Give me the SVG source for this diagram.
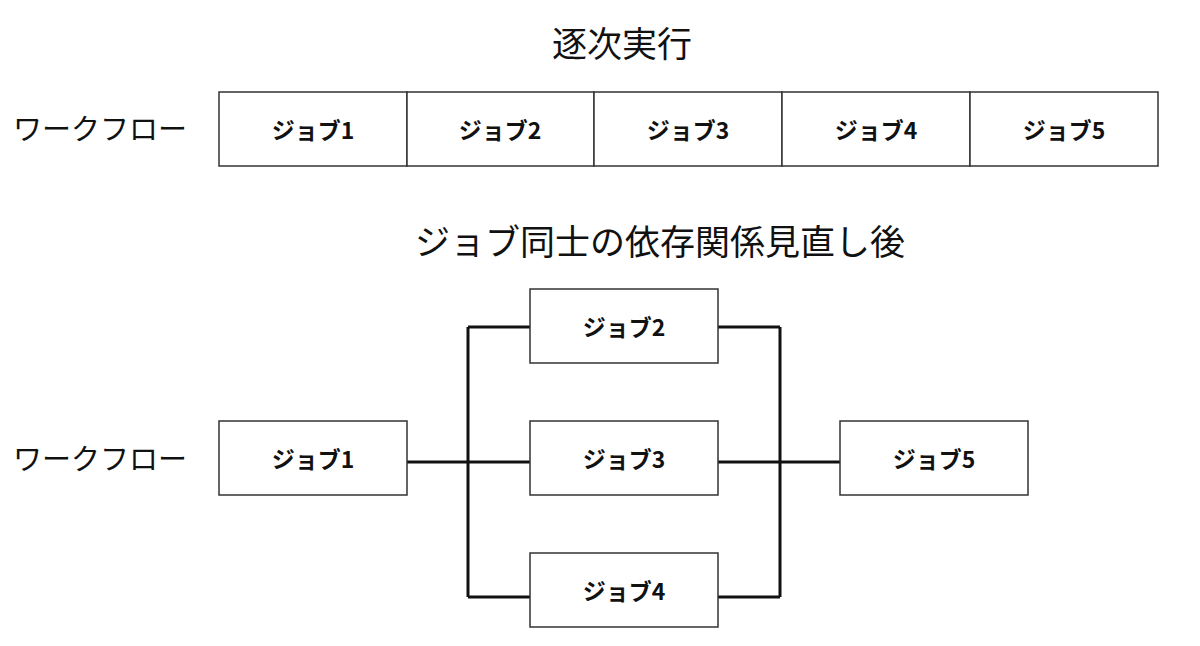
<svg xmlns="http://www.w3.org/2000/svg" width="1200" height="646" viewBox="0 0 1200 646">
<style>
.t{font-family:"Noto Sans CJK JP","Noto Sans",sans-serif;fill:#111}
.title{font-size:35px}
.side{font-size:29px}
.lbl{font-size:23px;font-weight:bold;text-anchor:middle;dominant-baseline:central}
.box{fill:#fff;stroke:#333;stroke-width:1.5}
.conn{fill:none;stroke:#111;stroke-width:3}
</style>
<rect width="1200" height="646" fill="#fff"/>
<text class="t title" x="622" y="57" text-anchor="middle">逐次実行</text>
<text class="t title" x="660" y="255" text-anchor="middle">ジョブ同士の依存関係見直し後</text>
<text class="t side" x="13" y="140">ワークフロー</text>
<text class="t side" x="13" y="470">ワークフロー</text>
<g id="seq1"><rect class="box" x="219" y="92" width="188" height="74"/><text class="t lbl" x="313" y="129">ジョブ1</text></g>
<g id="seq2"><rect class="box" x="407" y="92" width="187" height="74"/><text class="t lbl" x="500" y="129">ジョブ2</text></g>
<g id="seq3"><rect class="box" x="594" y="92" width="188" height="74"/><text class="t lbl" x="688" y="129">ジョブ3</text></g>
<g id="seq4"><rect class="box" x="782" y="92" width="188" height="74"/><text class="t lbl" x="876" y="129">ジョブ4</text></g>
<g id="seq5"><rect class="box" x="970" y="92" width="188" height="74"/><text class="t lbl" x="1064" y="129">ジョブ5</text></g>
<g id="connectors">
<path class="conn" d="M407 462H530M718 462H840M468 327V597M780 327V597M468 327H530M718 327H780M468 597H530M718 597H780"/>
</g>
<g id="job1"><rect class="box" x="219" y="421" width="188" height="74"/><text class="t lbl" x="313" y="458">ジョブ1</text></g>
<g id="job2"><rect class="box" x="530" y="289" width="188" height="74"/><text class="t lbl" x="624" y="326">ジョブ2</text></g>
<g id="job3"><rect class="box" x="530" y="421" width="188" height="74"/><text class="t lbl" x="624" y="458">ジョブ3</text></g>
<g id="job4"><rect class="box" x="530" y="553" width="188" height="74"/><text class="t lbl" x="624" y="590">ジョブ4</text></g>
<g id="job5"><rect class="box" x="840" y="421" width="188" height="74"/><text class="t lbl" x="934" y="458">ジョブ5</text></g>
</svg>
